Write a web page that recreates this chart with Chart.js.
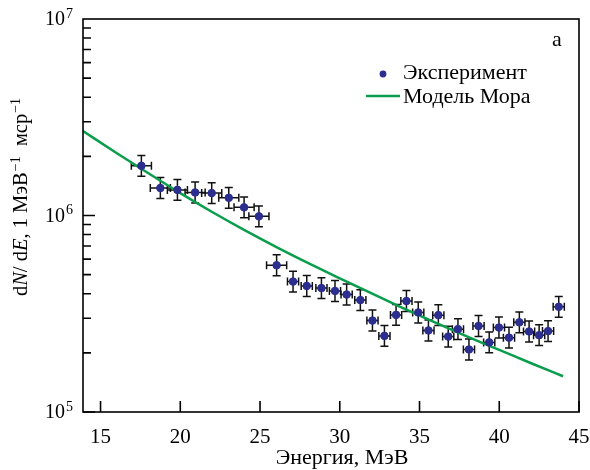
<!DOCTYPE html>
<html>
<head>
<meta charset="utf-8">
<script src="https://cdn.jsdelivr.net/npm/chart.js@4.4.0/dist/chart.umd.min.js"></script>
<style>
html, body { margin: 0; padding: 0; background: #fff; }
</style>
</head>
<body>
<canvas id="spectrumChart" width="590" height="470"></canvas>
<script>
// experimental points: energy (MeV), dN/dE, errors
const energyExp = [17.56, 18.75, 19.82, 20.93, 21.97, 23.04, 24.0, 24.93, 26.04, 27.07, 27.93, 28.85,
    29.7, 30.43, 31.29, 32.05, 32.8, 33.53, 34.18, 34.92, 35.56, 36.18, 36.8, 37.41, 38.1, 38.7,
    39.37, 39.98, 40.61, 41.26, 41.87, 42.5, 43.06, 43.73];
const countsExp = [1.79e6, 1.38e6, 1.35e6, 1.31e6, 1.30e6, 1.23e6, 1.10e6, 0.99e6, 5.58e5, 4.61e5, 4.38e5, 4.27e5,
    4.13e5, 3.96e5, 3.71e5, 2.92e5, 2.44e5, 3.12e5, 3.67e5, 3.21e5, 2.60e5, 3.11e5, 2.42e5, 2.64e5, 2.08e5, 2.74e5,
    2.26e5, 2.69e5, 2.39e5, 2.86e5, 2.57e5, 2.46e5, 2.58e5, 3.43e5];
const energyErr = [0.63, 0.63, 0.63, 0.63, 0.63, 0.63, 0.63, 0.63, 0.63, 0.35, 0.35, 0.35,
    0.35, 0.35, 0.35, 0.35, 0.35, 0.35, 0.35, 0.35, 0.35, 0.35, 0.35, 0.35, 0.35, 0.35,
    0.35, 0.35, 0.35, 0.35, 0.35, 0.35, 0.35, 0.35];
const countsErrRel = [0.13, 0.13, 0.13, 0.13, 0.13, 0.13, 0.13, 0.13, 0.13, 0.13, 0.13, 0.13,
    0.13, 0.13, 0.13, 0.13, 0.13, 0.13, 0.13, 0.13, 0.13, 0.13, 0.13, 0.13, 0.13, 0.13,
    0.13, 0.13, 0.13, 0.13, 0.13, 0.13, 0.13, 0.13];

// Mohr model curve
const energyModel = [13.9, 16, 18, 20, 22, 24, 26, 28, 30, 32, 34, 36, 38, 40, 42, 44];
const countsModel = [2.69e6, 2.08e6, 1.64e6, 1.30e6, 1.042e6, 8.45e5, 6.93e5, 5.74e5, 4.79e5, 4.01e5, 3.37e5,
    2.85e5, 2.42e5, 2.07e5, 1.77e5, 1.52e5];

const xTickValues = [15, 20, 25, 30, 35, 40, 45];
const yDecades = [5, 6, 7];
const seriesLabels = ['Эксперимент', 'Модель Мора'];
const xTitle = 'Энергия, МэВ';
const panelLetter = 'а';

const blue = '#2B2E8E';
const green = '#0A9D4C';
const serif = '"Liberation Serif", "Times New Roman", serif';

const decoPlugin = {
    id: 'deco',
    beforeDatasetsDraw(chart) {
        const ctx = chart.ctx;
        const xs = chart.scales.x, ys = chart.scales.y;
        ctx.save();
        ctx.strokeStyle = '#111';
        ctx.lineWidth = 1.5;
        ctx.beginPath();
        for (let i = 0; i < energyExp.length; i++) {
            const px = xs.getPixelForValue(energyExp[i]);
            const py = ys.getPixelForValue(countsExp[i]);
            const x0 = xs.getPixelForValue(energyExp[i] - energyErr[i]);
            const x1 = xs.getPixelForValue(energyExp[i] + energyErr[i]);
            const y0 = ys.getPixelForValue(countsExp[i] * (1 + countsErrRel[i]));
            const y1 = ys.getPixelForValue(countsExp[i] / (1 + countsErrRel[i]));
            ctx.moveTo(x0, py); ctx.lineTo(x1, py);
            ctx.moveTo(x0, py - 4); ctx.lineTo(x0, py + 4);
            ctx.moveTo(x1, py - 4); ctx.lineTo(x1, py + 4);
            ctx.moveTo(px, y0); ctx.lineTo(px, y1);
            ctx.moveTo(px - 4, y0); ctx.lineTo(px + 4, y0);
            ctx.moveTo(px - 4, y1); ctx.lineTo(px + 4, y1);
        }
        ctx.stroke();
        ctx.restore();
    },
    afterDraw(chart) {
        const ctx = chart.ctx;
        const a = chart.chartArea;
        const xs = chart.scales.x, ys = chart.scales.y;
        ctx.save();
        ctx.strokeStyle = '#000';
        ctx.fillStyle = '#000';
        ctx.lineWidth = 1.6;
        ctx.strokeRect(a.left, a.top, a.right - a.left, a.bottom - a.top);

        // inward ticks
        ctx.beginPath();
        xTickValues.forEach(v => {
            const px = xs.getPixelForValue(v);
            ctx.moveTo(px, a.bottom); ctx.lineTo(px, a.bottom - 11);
        });
        for (let d = yDecades[0]; d < yDecades[yDecades.length - 1]; d++) {
            for (let m = 1; m < 10; m++) {
                const py = ys.getPixelForValue(m * Math.pow(10, d));
                ctx.moveTo(a.left, py); ctx.lineTo(a.left + (m === 1 ? 12 : 8), py);
            }
        }
        ctx.stroke();

        // x tick labels
        ctx.font = '21px ' + serif;
        ctx.textAlign = 'center';
        ctx.textBaseline = 'middle';
        xTickValues.forEach(v => ctx.fillText(String(v), xs.getPixelForValue(v), 437));

        // y tick labels 10^n
        yDecades.forEach(d => {
            const py = ys.getPixelForValue(Math.pow(10, d));
            ctx.font = '20px ' + serif;
            ctx.textAlign = 'right';
            ctx.textBaseline = 'middle';
            ctx.fillText('10', 65, py + 1);
            ctx.font = '14px ' + serif;
            ctx.textAlign = 'left';
            ctx.fillText(String(d), 66, py - 5);
        });

        // x title
        ctx.font = '22px ' + serif;
        ctx.textAlign = 'center';
        ctx.fillText(xTitle, 342, 458);

        // y title with italic symbols and superscripts
        const runs = [
            ['d', 'n'], ['N', 'i'], ['/ d', 'n'], ['E', 'i'], [', 1 МэВ', 'n'], ['\u22121', 's'],
            ['  мср', 'n'], ['\u22121', 's']
        ];
        const fontFor = t => t === 'i' ? 'italic 20.5px ' + serif : (t === 's' ? '14px ' + serif : '20.5px ' + serif);
        let total = 0;
        runs.forEach(r => { ctx.font = fontFor(r[1]); total += ctx.measureText(r[0]).width + (r[1] === 's' ? 1 : 0); });
        ctx.translate(21, 197);
        ctx.rotate(-Math.PI / 2);
        ctx.textAlign = 'left';
        ctx.textBaseline = 'alphabetic';
        let cx = -total / 2;
        runs.forEach(r => {
            ctx.font = fontFor(r[1]);
            if (r[1] === 's') {
                cx += 1;
                ctx.fillText(r[0], cx, -1);
            } else {
                ctx.fillText(r[0], cx, 6);
            }
            cx += ctx.measureText(r[0]).width;
        });
        ctx.restore();

        // legend and panel letter
        ctx.save();
        ctx.font = '22px ' + serif;
        ctx.textBaseline = 'middle';
        ctx.textAlign = 'center';
        ctx.fillStyle = '#000';
        ctx.fillText(panelLetter, 557, 40);
        ctx.textAlign = 'left';
        ctx.fillStyle = blue;
        ctx.beginPath();
        ctx.arc(383, 74, 3.4, 0, Math.PI * 2);
        ctx.fill();
        ctx.fillStyle = '#000';
        ctx.fillText(seriesLabels[0], 403, 73);
        ctx.strokeStyle = green;
        ctx.lineWidth = 2.5;
        ctx.beginPath();
        ctx.moveTo(366, 96); ctx.lineTo(400, 96);
        ctx.stroke();
        ctx.fillText(seriesLabels[1], 403, 97);
        ctx.restore();
    }
};

const ctx = document.getElementById('spectrumChart').getContext('2d');
const spectrumChart = new Chart(ctx, {
    type: 'scatter',
    data: {
        datasets: [{
            label: seriesLabels[0],
            data: energyExp.map((e, i) => ({x: e, y: countsExp[i]})),
            backgroundColor: blue,
            borderColor: blue,
            pointRadius: 3.8,
            pointHoverRadius: 3.8,
            order: 1
        },
            {
                label: seriesLabels[1],
                data: energyModel.map((e, i) => ({x: e, y: countsModel[i]})),
                showLine: true,
                borderColor: green,
                borderWidth: 2.5,
                pointRadius: 0,
                cubicInterpolationMode: 'monotone',
                order: 2
            }]
    },
    options: {
        responsive: false,
        animation: false,
        devicePixelRatio: 1,
        layout: {padding: {top: 19, right: 11, left: 0, bottom: 0}},
        plugins: {
            legend: {display: false},
            tooltip: {enabled: false}
        },
        scales: {
            x: {
                type: 'linear',
                min: 13.9,
                max: 45,
                grid: {display: false},
                border: {display: false},
                ticks: {display: false},
                afterBuildTicks: s => { s.ticks = xTickValues.map(v => ({value: v})); },
                afterFit: s => { s.height = 58; }
            },
            y: {
                type: 'logarithmic',
                min: 1e5,
                max: 1e7,
                grid: {display: false},
                border: {display: false},
                ticks: {display: false},
                afterFit: s => { s.width = 83; }
            }
        }
    },
    plugins: [decoPlugin]
});
</script>
</body>
</html>
